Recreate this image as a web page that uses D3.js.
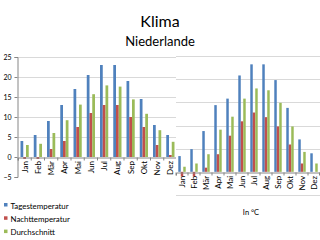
<!DOCTYPE html>
<html>
<head>
<meta charset="utf-8">
<script src="https://cdn.jsdelivr.net/npm/d3@7"></script>
<style>
    body { margin: 0; background: #fff; }
    text { font-family: Lato, "Open Sans", sans-serif; fill: #000; }
</style>
</head>
<body>
<svg id="chart" width="320" height="240"></svg>
<script>
// ----------------------------
// Data
// ----------------------------
const months = ["Jan", "Feb", "Mär", "Apr", "Mai", "Jun", "Jul", "Aug", "Sep", "Okt", "Nov", "Dez"];
const seriesNames = ["Tagestemperatur", "Nachttemperatur", "Durchschnitt"];
const seriesColors = ["#4F81BD", "#C0504D", "#9BBB59"];
const yTicks = [-5, 0, 5, 10, 15, 20, 25];

// first (back) chart
const tag1 = [4, 5.5, 9, 13, 17, 20.5, 23, 23, 19, 14.5, 8, 5.5];
const nacht1 = [-0.5, -0.5, 2, 4, 7.5, 11, 13, 13, 10, 7.5, 3, 0.5];
const durch1 = [3, 3.3, 6, 9.2, 13.1, 15.7, 17.9, 17.6, 14.4, 10.8, 6.7, 3.8];

// second (front) chart
const tag2 = [3.4, 4.9, 8.8, 14.4, 15.8, 20.8, 23.2, 23.2, 19.8, 13.8, 7, 4];
const nacht2 = [-1, -1, 0.9, 3.8, 7.8, 10.9, 12.8, 11.8, 9.8, 5.9, 1.8, 0];
const durch2 = [1.1, 1.8, 3.8, 9.1, 11.9, 15.8, 18, 17.6, 14.9, 9.8, 4.3, 1.8];

const svg = d3.select("#chart");

// ----------------------------
// Draw one column chart
// ----------------------------
function drawChart(opts) {
    const g = svg.append("g");
    const x = d3.scaleBand().domain(months).range(opts.xRange)
        .paddingInner(0.38).paddingOuter(0.19);
    const xs = d3.scaleBand().domain(seriesNames).range([0, x.bandwidth()]);
    const y = d3.scaleLinear().domain([-5, 25]).range(opts.yRange);

    if (opts.background) {
        g.append("rect")
            .attr("x", opts.xRange[0]).attr("y", y(25) - 1)
            .attr("width", opts.xRange[1] - opts.xRange[0])
            .attr("height", y(-5) - y(25) + 2)
            .attr("fill", "#fff");
    }

    // gridlines
    g.selectAll(".grid")
        .data(yTicks.filter(t => t !== 0 && (opts.bottomGrid || t !== -5)))
        .join("line")
        .attr("x1", opts.xRange[0]).attr("x2", opts.xRange[1])
        .attr("y1", d => Math.round(y(d)) + 0.5).attr("y2", d => Math.round(y(d)) + 0.5)
        .attr("stroke", "#d9d9d9").attr("stroke-width", 1);

    // bars
    const data = opts.values;
    seriesNames.forEach((name, si) => {
        g.selectAll(".bar" + si)
            .data(data[si])
            .join("rect")
            .attr("x", (d, i) => x(months[i]) + xs(name))
            .attr("width", xs.bandwidth())
            .attr("y", d => y(Math.max(0, d)))
            .attr("height", d => Math.abs(y(d) - y(0)))
            .attr("fill", seriesColors[si]);
    });

    // category axis at zero
    const xAxis = d3.axisBottom(x).tickSize(3).tickFormat("");
    const ax = g.append("g")
        .attr("transform", `translate(0,${Math.round(y(0)) + 0.5})`)
        .call(xAxis);
    ax.select(".domain").attr("stroke", "#868686");
    // ticks sit on category boundaries
    ax.selectAll(".tick line")
        .attr("transform", `translate(${-x.step() / 2},0)`)
        .attr("stroke", "#868686");
    ax.append("line")
        .attr("x1", opts.xRange[1] - 0.5).attr("x2", opts.xRange[1] - 0.5)
        .attr("y1", 0).attr("y2", 3).attr("stroke", "#868686");

    g.selectAll(".mlabel")
        .data(months)
        .join("text")
        .attr("transform", d => `translate(${x(d) + x.bandwidth() / 2 + 3},${y(0) + 4}) rotate(-90)`)
        .attr("text-anchor", "end")
        .attr("font-size", 8)
        .text(d => d);

    // value axis
    if (opts.showY) {
        const yAxis = d3.axisLeft(y).tickValues(yTicks).tickSize(3).tickFormat(d3.format("d"));
        const ay = g.append("g")
            .attr("transform", `translate(${opts.xRange[0] - 0.5},0)`)
            .call(yAxis);
        ay.select(".domain").attr("stroke", "#868686");
        ay.selectAll(".tick line").attr("stroke", "#868686");
        ay.selectAll(".tick text")
            .attr("font-family", "Lato, sans-serif")
            .attr("font-size", 7)
            .attr("fill", "#000")
            .attr("x", -6);
    }
    return g;
}

// ----------------------------
// Titles
// ----------------------------
svg.append("text").attr("x", 160).attr("y", 27)
    .attr("text-anchor", "middle").attr("font-size", 16).text("Klima");
svg.append("text").attr("x", 160).attr("y", 45.5)
    .attr("text-anchor", "middle").attr("font-size", 13).text("Niederlande");

// back chart, then front chart over it
drawChart({
    xRange: [18, 177], yRange: [177, 57],
    values: [tag1, nacht1, durch1], showY: true, bottomGrid: false, background: false
});
drawChart({
    xRange: [176, 320], yRange: [195, 56],
    values: [tag2, nacht2, durch2], showY: false, bottomGrid: true, background: true
});

// ----------------------------
// Legend and unit
// ----------------------------
const legend = svg.append("g");
seriesNames.forEach((name, i) => {
    legend.append("rect")
        .attr("x", 4).attr("y", 203 + i * 13.3)
        .attr("width", 3.5).attr("height", 3.5)
        .attr("fill", seriesColors[i]);
    legend.append("text")
        .attr("x", 10.5).attr("y", 208.5 + i * 13.3)
        .attr("font-size", 7.9)
        .text(name);
});

svg.append("text").attr("x", 251).attr("y", 215)
    .attr("text-anchor", "middle").attr("font-size", 7.5).text("In °C");
</script>
</body>
</html>
